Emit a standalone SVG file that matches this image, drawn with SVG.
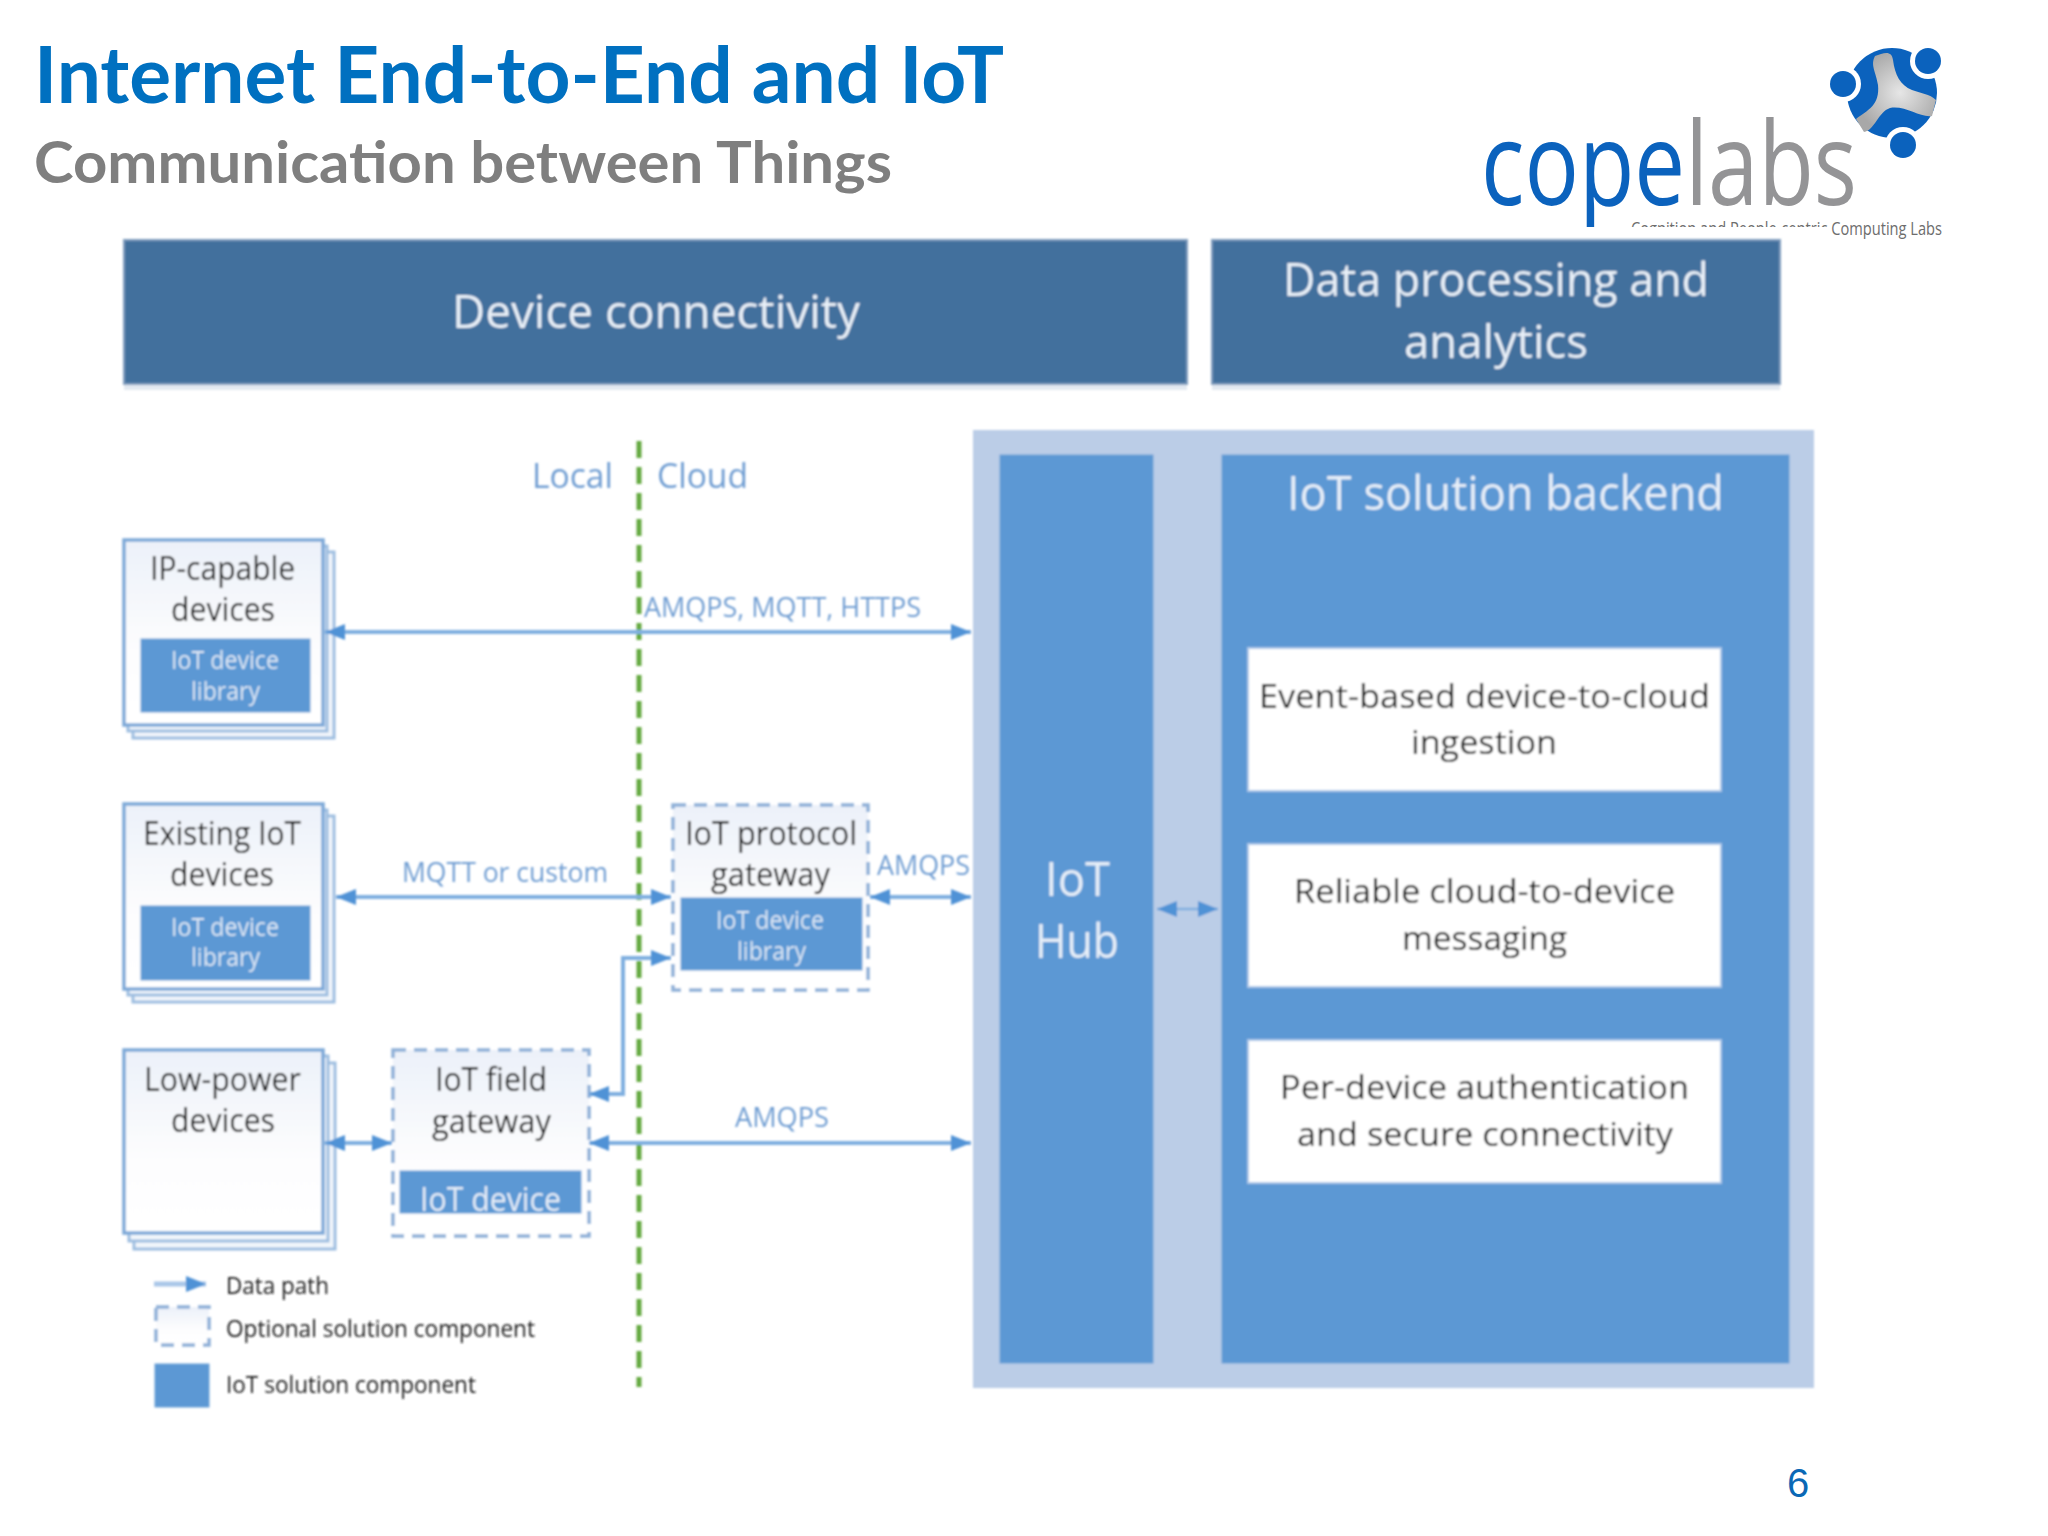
<svg xmlns="http://www.w3.org/2000/svg" width="2048" height="1536" viewBox="0 0 2048 1536">
<style>
text{font-family:"Open Sans","Noto Sans",sans-serif;text-anchor:start}
.hd{fill:#e8eff7;font-size:46px}
.bl{fill:#e6eef8;font-size:48px}
.dk{fill:#000;font-size:33px}
.sm{fill:#dde8f5;font-size:25px}
.lb{fill:#6f9dd2;font-size:28px}
.lg{fill:#1e1e1e;font-size:24px}
.head{fill:#426f9d;stroke:#7f9cbe;stroke-width:2}
.shade{fill:#e3e9f1}
.blue{fill:#5b98d4;stroke:#6ba0d6;stroke-width:1}
.wbox{fill:#fff;stroke:#a9c6e8;stroke-width:2}
.dev{fill:url(#g);stroke:#7ea9d8;stroke-width:3.5}
.back{fill:#f2f6fb;stroke:#9dbde0;stroke-width:3}
.dash{fill:url(#g);stroke:#8fb0d8;stroke-width:3.5;stroke-dasharray:13 8}
.ar{fill:none;stroke:#7fafe0;stroke-width:4;marker-start:url(#h);marker-end:url(#h)}
</style>
<defs>
<linearGradient id="g" x1="0" y1="0" x2="0" y2="1"><stop offset="0" stop-color="#ecf1f9"/><stop offset="0.6" stop-color="#fdfdfe"/><stop offset="1" stop-color="#ffffff"/></linearGradient>
<radialGradient id="y" cx="0.55" cy="0.5" r="0.55"><stop offset="0" stop-color="#e6e6e6"/><stop offset="1" stop-color="#a8a8a8"/></radialGradient>
<marker id="h" markerUnits="userSpaceOnUse" markerWidth="24" markerHeight="20" refX="20" refY="9" orient="auto-start-reverse"><path d="M0,1 L20,9 L0,17 Z" fill="#4f92d6"/></marker>
<clipPath id="logoclip"><rect x="1470" y="100" width="420" height="127"/></clipPath>
<filter id="soft" x="-2%" y="-2%" width="104%" height="104%"><feGaussianBlur stdDeviation="0.9"/></filter>
</defs>
<rect width="2048" height="1536" fill="#fff"/>
<g id="title">
<text x="34" y="103" textLength="970" lengthAdjust="spacingAndGlyphs" style="font-family:Lato,sans-serif;font-weight:700;font-size:78px" fill="#0070c0">Internet End-to-End and IoT</text>
<text x="34" y="183" textLength="858" lengthAdjust="spacingAndGlyphs" style="font-family:Lato,sans-serif;font-weight:700;font-size:57px" fill="#7f7f7f">Communication between Things</text>
</g>
<g id="logo">
<circle cx="1892" cy="93" r="45" fill="#0b62bd"/>
<path d="M1881,54 C1888,52 1892,53 1893,60 C1895,75 1900,85 1912,90 C1920,93 1930,94 1936,100 L1932,116 C1920,118 1905,105 1890,108 C1878,112 1875,130 1864,132 L1856,119 C1868,110 1880,105 1878,85 C1876,72 1870,65 1875,56 Z" fill="url(#y)"/>
<circle cx="1843" cy="84" r="18" fill="#fff"/><circle cx="1928" cy="61" r="18" fill="#fff"/><circle cx="1903" cy="145" r="18" fill="#fff"/>
<circle cx="1843" cy="84" r="13" fill="#0b62bd"/><circle cx="1928" cy="61" r="13" fill="#0b62bd"/><circle cx="1903" cy="145" r="13" fill="#0b62bd"/>
<g clip-path="url(#logoclip)"><text x="1481" y="205" textLength="376" lengthAdjust="spacingAndGlyphs" style="font-size:116px"><tspan fill="#0b62bd" font-weight="500">cope</tspan><tspan fill="#949496" font-weight="400">labs</tspan></text></g>
<text x="1631" y="235" textLength="311" lengthAdjust="spacingAndGlyphs" style="font-size:18px" fill="#6d6d6d">Cognition and People-centric Computing Labs</text>
<rect x="1600" y="227" width="229" height="12" fill="#fff"/>
</g>
<g id="diagram" filter="url(#soft)">
<g id="device-connectivity"><rect class="shade" x="124" y="384" width="1063" height="6"/><rect class="head" x="124" y="240" width="1063" height="144"/><text class="hd" x="452" y="328" textLength="408" lengthAdjust="spacingAndGlyphs">Device connectivity</text></g>
<g id="data-processing"><rect class="shade" x="1212" y="384" width="568" height="6"/><rect class="head" x="1212" y="240" width="568" height="144"/><text class="hd" x="1283" y="296" textLength="426" lengthAdjust="spacingAndGlyphs">Data processing and</text><text class="hd" x="1404" y="358" textLength="184" lengthAdjust="spacingAndGlyphs">analytics</text></g>
<g id="cloud-panel"><rect x="973" y="430" width="841" height="958" fill="#bbcde7"/></g>
<g id="iot-hub"><rect class="blue" x="1000" y="455" width="153" height="908"/><text class="bl" x="1045" y="896" textLength="65" lengthAdjust="spacingAndGlyphs">IoT</text><text class="bl" x="1035" y="958" textLength="84" lengthAdjust="spacingAndGlyphs">Hub</text></g>
<g id="backend"><rect class="blue" x="1222" y="455" width="567" height="908"/><text class="bl" x="1287" y="510" textLength="437" lengthAdjust="spacingAndGlyphs">IoT solution backend</text></g>
<g id="ingestion"><rect class="wbox" x="1248" y="648" width="473" height="143"/><text class="dk" x="1259" y="708" textLength="451" lengthAdjust="spacingAndGlyphs">Event-based device-to-cloud</text><text class="dk" x="1411" y="754" textLength="146" lengthAdjust="spacingAndGlyphs">ingestion</text></g>
<g id="messaging"><rect class="wbox" x="1248" y="844" width="473" height="143"/><text class="dk" x="1294" y="903" textLength="381" lengthAdjust="spacingAndGlyphs">Reliable cloud-to-device</text><text class="dk" x="1402" y="950" textLength="165" lengthAdjust="spacingAndGlyphs">messaging</text></g>
<g id="authentication"><rect class="wbox" x="1248" y="1040" width="473" height="143"/><text class="dk" x="1280" y="1099" textLength="409" lengthAdjust="spacingAndGlyphs">Per-device authentication</text><text class="dk" x="1297" y="1146" textLength="376" lengthAdjust="spacingAndGlyphs">and secure connectivity</text></g>
<g id="boundary"><line x1="639" y1="441" x2="639" y2="1387" stroke="#62a83f" stroke-width="5" stroke-dasharray="17 9"/><text class="lb" x="532" y="488" textLength="81" lengthAdjust="spacingAndGlyphs" style="font-size:35px">Local</text><text class="lb" x="657" y="488" textLength="91" lengthAdjust="spacingAndGlyphs" style="font-size:35px">Cloud</text></g>
<g id="ip-devices">
<rect class="back" x="133" y="552" width="201" height="186"/><rect class="back" x="128" y="546" width="199" height="185"/><rect class="dev" x="124" y="540" width="199" height="185"/>
<rect class="blue" x="141" y="639" width="169" height="73"/>
<text class="dk" x="150" y="580" textLength="145" lengthAdjust="spacingAndGlyphs">IP-capable</text><text class="dk" x="171" y="621" textLength="104" lengthAdjust="spacingAndGlyphs">devices</text>
<text class="sm" x="171" y="669" textLength="108" lengthAdjust="spacingAndGlyphs">IoT device</text><text class="sm" x="191" y="700" textLength="69" lengthAdjust="spacingAndGlyphs">library</text></g>
<g id="existing-devices">
<rect class="back" x="133" y="816" width="201" height="186"/><rect class="back" x="128" y="810" width="199" height="185"/><rect class="dev" x="124" y="804" width="199" height="185"/>
<rect class="blue" x="141" y="906" width="169" height="74"/>
<text class="dk" x="143" y="845" textLength="158" lengthAdjust="spacingAndGlyphs">Existing IoT</text><text class="dk" x="170" y="886" textLength="104" lengthAdjust="spacingAndGlyphs">devices</text>
<text class="sm" x="171" y="936" textLength="108" lengthAdjust="spacingAndGlyphs">IoT device</text><text class="sm" x="191" y="966" textLength="69" lengthAdjust="spacingAndGlyphs">library</text></g>
<g id="protocol-gateway">
<rect class="dash" x="673" y="805" width="195" height="185"/>
<rect class="blue" x="681" y="898" width="181" height="72"/>
<text class="dk" x="685" y="845" textLength="172" lengthAdjust="spacingAndGlyphs">IoT protocol</text><text class="dk" x="711" y="886" textLength="119" lengthAdjust="spacingAndGlyphs">gateway</text>
<text class="sm" x="716" y="929" textLength="108" lengthAdjust="spacingAndGlyphs">IoT device</text><text class="sm" x="737" y="960" textLength="69" lengthAdjust="spacingAndGlyphs">library</text></g>
<g id="low-power-devices">
<rect class="back" x="134" y="1063" width="201" height="186"/><rect class="back" x="129" y="1056" width="199" height="185"/><rect class="dev" x="124" y="1050" width="199" height="183"/>
<text class="dk" x="144" y="1091" textLength="157" lengthAdjust="spacingAndGlyphs">Low-power</text><text class="dk" x="171" y="1132" textLength="104" lengthAdjust="spacingAndGlyphs">devices</text></g>
<g id="field-gateway">
<rect class="dash" x="393" y="1050" width="196" height="186"/>
<rect class="blue" x="400" y="1171" width="181" height="42"/>
<text class="dk" x="435" y="1091" textLength="112" lengthAdjust="spacingAndGlyphs">IoT field</text><text class="dk" x="432" y="1133" textLength="119" lengthAdjust="spacingAndGlyphs">gateway</text>
<text x="420" y="1211" textLength="141" lengthAdjust="spacingAndGlyphs" style="font-size:32px" fill="#e6eef8">IoT device</text></g>
<g id="connectors">
<line class="ar" x1="325" y1="632" x2="971" y2="632"/>
<line class="ar" x1="336" y1="897" x2="671" y2="897"/>
<line class="ar" x1="870" y1="897" x2="971" y2="897"/>
<path class="ar" d="M589,1094 H623 V958 H671"/>
<line class="ar" x1="325" y1="1143" x2="392" y2="1143"/>
<line class="ar" x1="589" y1="1143" x2="971" y2="1143"/>
<line class="ar" x1="1157" y1="909" x2="1218" y2="909" style="stroke-width:2.5"/>
</g>
<g id="connector-labels">
<text class="lb" x="644" y="617" textLength="277" lengthAdjust="spacingAndGlyphs">AMQPS, MQTT, HTTPS</text>
<text class="lb" x="402" y="882" textLength="206" lengthAdjust="spacingAndGlyphs">MQTT or custom</text>
<text class="lb" x="877" y="875" textLength="93" lengthAdjust="spacingAndGlyphs">AMQPS</text>
<text class="lb" x="735" y="1127" textLength="94" lengthAdjust="spacingAndGlyphs">AMQPS</text>
</g>
<g id="legend">
<line x1="154" y1="1284" x2="206" y2="1284" stroke="#a9c6e8" stroke-width="5"/><path d="M186,1276 L206,1284 L186,1292 Z" fill="#4f92d6"/>
<text class="lg" x="226" y="1294" textLength="103" lengthAdjust="spacingAndGlyphs">Data path</text>
<rect class="dash" x="156" y="1307" width="53" height="38"/>
<text class="lg" x="226" y="1337" textLength="309" lengthAdjust="spacingAndGlyphs">Optional solution component</text>
<rect class="blue" x="155" y="1364" width="54" height="43"/>
<text class="lg" x="226" y="1393" textLength="250" lengthAdjust="spacingAndGlyphs">IoT solution component</text>
</g>
</g>
<g id="page-number"><text x="1787" y="1497" style="font-family:'Liberation Sans',sans-serif;font-size:40px" fill="#0b68b5">6</text></g>
</svg>
